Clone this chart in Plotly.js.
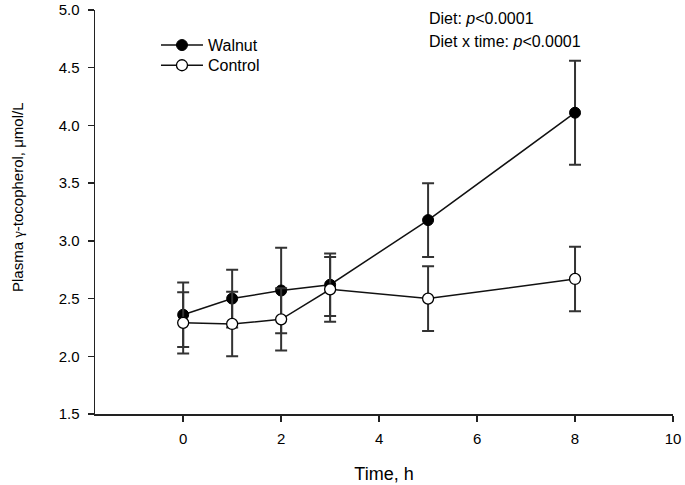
<!DOCTYPE html>
<html><head><meta charset="utf-8">
<script src="https://cdn.plot.ly/plotly-3.0.1.min.js"></script>
<style>html,body{margin:0;padding:0;background:#fff}#c{width:685px;height:485px}</style>
</head><body><div id="c"></div>
<script>
const timeH = [0, 1, 2, 3, 5, 8];
const walnutMean = [2.36, 2.50, 2.57, 2.62, 3.18, 4.11];
const walnutErr = [0.28, 0.25, 0.37, 0.27, 0.32, 0.45];
const controlMean = [2.29, 2.28, 2.32, 2.58, 2.50, 2.67];
const controlErr = [0.265, 0.28, 0.27, 0.28, 0.28, 0.28];
const xTicks = [0, 2, 4, 6, 8, 10];
const yTicks = [1.5, 2.0, 2.5, 3.0, 3.5, 4.0, 4.5, 5.0];

const font = 'Liberation Sans, Arial, sans-serif';
const errStyle = {type: 'data', visible: true, thickness: 2, width: 6, color: '#333'};

const traces = [
  {x: timeH, y: walnutMean, name: 'Walnut', mode: 'lines+markers', type: 'scatter',
   legend: 'legend',
   line: {color: '#111', width: 1.5},
   marker: {size: 11, color: '#000', line: {color: '#000', width: 1}},
   error_y: Object.assign({array: walnutErr}, errStyle)},
  {x: timeH, y: controlMean, name: 'Control', mode: 'lines+markers', type: 'scatter',
   legend: 'legend2',
   line: {color: '#111', width: 1.5},
   marker: {size: 11, color: '#fff', line: {color: '#000', width: 1.3}},
   error_y: Object.assign({array: controlErr}, errStyle)}
];

const legStyle = (y) => ({x: 0.1055, y: y, xanchor: 'left', yanchor: 'middle',
  bgcolor: 'rgba(0,0,0,0)', font: {size: 16, family: font}, itemwidth: 42});

const layout = {
  width: 685, height: 485,
  margin: {l: 95, r: 12, t: 10, b: 71},
  paper_bgcolor: '#fff', plot_bgcolor: '#fff',
  font: {family: font, size: 15, color: '#000'},
  showlegend: true,
  legend: legStyle(0.913),
  legend2: legStyle(0.863),
  xaxis: {range: [-1.8, 10], tickvals: xTicks, ticktext: xTicks.map(String),
          showgrid: false, zeroline: false, showline: true, linecolor: '#222', linewidth: 1.5,
          ticks: 'outside', ticklen: 6, tickwidth: 1.5, tickcolor: '#222',
          ticklabelstandoff: 4,
          tickfont: {size: 15, family: font},
          title: {text: 'Time, h', font: {size: 18, family: font}, standoff: 22}},
  yaxis: {range: [1.5, 5.0], tickvals: yTicks, ticktext: yTicks.map(v => v.toFixed(1)),
          showgrid: false, zeroline: false, showline: true, linecolor: '#222', linewidth: 1.5,
          ticks: 'outside', ticklen: 6, tickwidth: 1.5, tickcolor: '#222',
          ticklabelstandoff: 5,
          tickfont: {size: 15, family: font}},
  annotations: [
    {xref: 'paper', yref: 'paper', x: -0.135, y: 0.537, xanchor: 'center', yanchor: 'middle',
     textangle: -90,
     text: 'Plasma <span style="font-family:Liberation Serif">γ</span>-tocopherol, μmol/L',
     showarrow: false, font: {size: 15, family: font}},
    {xref: 'paper', yref: 'paper', x: 0.574, y: 0.978, xanchor: 'left', yanchor: 'middle',
     text: 'Diet: <i>p</i>&lt;0.0001', showarrow: false, font: {size: 16, family: font}},
    {xref: 'paper', yref: 'paper', x: 0.574, y: 0.9215, xanchor: 'left', yanchor: 'middle',
     text: 'Diet x time: <i>p</i>&lt;0.0001', showarrow: false, font: {size: 16, family: font}}
  ]
};

Plotly.newPlot('c', traces, layout, {displayModeBar: false, staticPlot: true});
</script></body></html>
